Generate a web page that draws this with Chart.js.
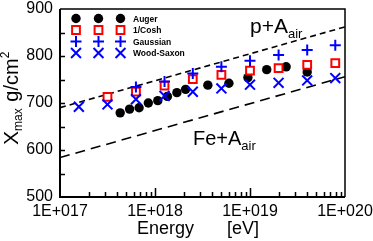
<!DOCTYPE html>
<html>
<head>
<meta charset="utf-8">
<script src="https://cdn.jsdelivr.net/npm/chart.js@4.4.0/dist/chart.umd.min.js"></script>
<style>
  html, body { margin: 0; padding: 0; background: #fff; }
  #wrap { width: 373px; height: 241px; position: relative; }
</style>
</head>
<body>
<div id="wrap"><canvas id="xmaxChart"></canvas></div>
<script>
const FONT = "'Liberation Sans', Arial, Helvetica, sans-serif";

// energies in eV, Xmax in g/cm2
const augerEnergy = [4.3e17, 5.4e17, 6.8e17, 8.5e17, 1.07e18, 1.35e18, 1.7e18, 2.1e18, 3.6e18, 6.0e18, 9.5e18, 1.5e19, 2.4e19, 4.0e19];
const augerXmax = [679, 687, 690, 700, 705, 714, 722, 729, 738, 742, 754, 771, 777, 766];

const modelEnergy = [1.58e17, 3.16e17, 6.3e17, 1.26e18, 2.5e18, 5.0e18, 1.0e19, 2.0e19, 4.0e19, 7.9e19];
const coshXmax = [null, 713, 724, 737, 751, 760, 769, 774, 781, 785];
const gaussXmax = [null, null, 734, 746, 763, 777, 790, 802, 813, 823];
const woodSaxonXmax = [692, 697, 708, 715, 724, 731, 739, 743, 748, 753];

const protonLineE = [1e17, 1e20];
const protonLineX = [690, 862];
const ironLineE = [1e17, 1e20];
const ironLineX = [584, 756];

const xTickValues = [1e17, 1e18, 1e19, 1e20];

function toPoints(xs, ys) {
    const pts = [];
    xs.forEach(function (x, i) {
        if (ys[i] !== null) pts.push({ x: x, y: ys[i] });
    });
    return pts;
}

const legendRows = [
    { label: 'Auger', style: { pointStyle: 'circle', radius: 4.7, borderWidth: 0 }, fill: '#000', stroke: '#000' },
    { label: '1/Cosh', style: { pointStyle: 'rect', radius: 5.5, borderWidth: 2 }, fill: '#fff', stroke: '#ff0000' },
    { label: 'Gaussian', style: { pointStyle: 'cross', radius: 5.5, borderWidth: 2 }, fill: '#00f', stroke: '#0000ff' },
    { label: 'Wood-Saxon', style: { pointStyle: 'crossRot', radius: 7, borderWidth: 2 }, fill: '#00f', stroke: '#0000ff' }
];

// rich text: pieces of [text, size, baseline shift]
function drawPieces(ctx, pieces, x, y) {
    let cx = x;
    pieces.forEach(function (p) {
        ctx.font = p[1] + 'px ' + FONT;
        ctx.fillText(p[0], cx, y + p[2]);
        cx += ctx.measureText(p[0]).width;
    });
}

const decorations = {
    id: 'decorations',
    afterDraw: function (chart) {
        const ctx = chart.ctx;
        const a = chart.chartArea;
        const x = chart.scales.x;
        const y = chart.scales.y;
        ctx.save();
        ctx.strokeStyle = '#000';
        ctx.fillStyle = '#000';

        // frame
        ctx.lineWidth = 1.5;
        ctx.beginPath();
        ctx.moveTo(a.left, a.top);
        ctx.lineTo(a.right, a.top);
        ctx.lineTo(a.right, a.bottom);
        ctx.stroke();
        ctx.lineWidth = 2;
        ctx.beginPath();
        ctx.moveTo(a.left, a.top);
        ctx.lineTo(a.left, a.bottom);
        ctx.lineTo(a.right, a.bottom);
        ctx.stroke();

        // inward ticks
        ctx.lineWidth = 1.5;
        ctx.beginPath();
        for (let v = 550; v < 900; v += 50) {
            const py = Math.round(y.getPixelForValue(v)) + 0.5;
            ctx.moveTo(a.left, py);
            ctx.lineTo(a.left + 5, py);
        }
        for (let e = 17; e < 20; e++) {
            for (let m = 2; m <= 10; m++) {
                const px = Math.round(x.getPixelForValue(m * Math.pow(10, e))) + 0.5;
                if (px >= a.right - 1) continue;
                ctx.moveTo(px, a.bottom);
                ctx.lineTo(px, a.bottom - (m === 10 ? 9 : 5));
            }
        }
        ctx.stroke();

        // axis titles
        ctx.textBaseline = 'alphabetic';
        ctx.textAlign = 'left';
        ctx.font = '18px ' + FONT;
        ctx.fillText('Energy', 137, 234);
        ctx.fillText('[eV]', 227, 234);

        ctx.save();
        ctx.translate(18, 145);
        ctx.rotate(-Math.PI / 2);
        drawPieces(ctx, [['X', 21, 0], ['max', 12, 4], ['  ', 12, 0], ['g/cm', 20, 0], ['2', 12, -9]], 0, 0);
        ctx.restore();

        // annotations
        drawPieces(ctx, [['p+A', 21, 0], ['air', 13, 5]], 250, 33);
        drawPieces(ctx, [['Fe+A', 20, 0], ['air', 13, 5]], 193, 145);

        // legend with three symbols per row
        const rowY = [18.5, 30, 41.5, 53];
        const symX = [76, 98.5, 120.5];
        legendRows.forEach(function (row, i) {
            ctx.fillStyle = row.fill;
            ctx.strokeStyle = row.stroke;
            ctx.lineWidth = row.style.borderWidth;
            symX.forEach(function (sx) {
                Chart.helpers.drawPoint(ctx, row.style, sx, rowY[i]);
            });
            ctx.fillStyle = '#000';
            ctx.font = 'bold 8.5px ' + FONT;
            ctx.fillText(row.label, 133, rowY[i] + 3);
        });
        ctx.restore();
    }
};

new Chart(document.getElementById('xmaxChart').getContext('2d'), {
    type: 'scatter',
    data: {
        datasets: [
            {
                label: 'p+Aair',
                data: toPoints(protonLineE, protonLineX),
                showLine: true,
                borderColor: '#000',
                borderWidth: 1.6,
                borderDash: [6, 4],
                pointRadius: 0,
                order: 10
            },
            {
                label: 'Fe+Aair',
                data: toPoints(ironLineE, ironLineX),
                showLine: true,
                borderColor: '#000',
                borderWidth: 1.6,
                borderDash: [10, 6],
                pointRadius: 0,
                order: 10
            },
            {
                label: 'Auger',
                data: toPoints(augerEnergy, augerXmax),
                pointStyle: 'circle',
                pointRadius: 4.7,
                backgroundColor: '#000',
                borderColor: '#000',
                borderWidth: 0,
                order: 4
            },
            {
                label: '1/Cosh',
                data: toPoints(modelEnergy, coshXmax),
                pointStyle: 'rect',
                pointRadius: 5.5,
                backgroundColor: '#fff',
                borderColor: '#ff0000',
                borderWidth: 2,
                order: 3
            },
            {
                label: 'Gaussian',
                data: toPoints(modelEnergy, gaussXmax),
                pointStyle: 'cross',
                pointRadius: 5.5,
                borderColor: '#0000ff',
                borderWidth: 2,
                order: 2
            },
            {
                label: 'Wood-Saxon',
                data: toPoints(modelEnergy, woodSaxonXmax),
                pointStyle: 'crossRot',
                pointRadius: 7,
                borderColor: '#0000ff',
                borderWidth: 2,
                order: 1
            }
        ]
    },
    options: {
        responsive: true,
        maintainAspectRatio: false,
        animation: false,
        layout: { padding: { top: 7, right: 28, left: 0, bottom: 0 } },
        plugins: {
            legend: { display: false },
            tooltip: { enabled: false }
        },
        scales: {
            x: {
                type: 'logarithmic',
                min: 1e17,
                max: 1e20,
                grid: { display: false, drawTicks: false },
                border: { display: false },
                afterBuildTicks: function (scale) {
                    scale.ticks = xTickValues.map(function (v) { return { value: v }; });
                },
                afterFit: function (scale) {
                    scale.height = 44;
                    scale.paddingLeft = 0;
                    scale.paddingRight = 0;
                },
                ticks: {
                    autoSkip: false,
                    maxRotation: 0,
                    padding: 5,
                    color: '#000',
                    font: { family: FONT, size: 16 },
                    callback: function (value) {
                        const e = Math.round(Math.log10(value));
                        return '1E+' + String(e).padStart(3, '0');
                    }
                }
            },
            y: {
                min: 500,
                max: 900,
                grid: { display: false, drawTicks: false },
                border: { display: false },
                afterFit: function (scale) {
                    scale.width = 60;
                    scale.paddingTop = 0;
                    scale.paddingBottom = 0;
                },
                ticks: {
                    stepSize: 100,
                    padding: 7,
                    color: '#000',
                    font: { family: FONT, size: 16 }
                }
            }
        }
    },
    plugins: [decorations]
});
</script>
</body>
</html>
